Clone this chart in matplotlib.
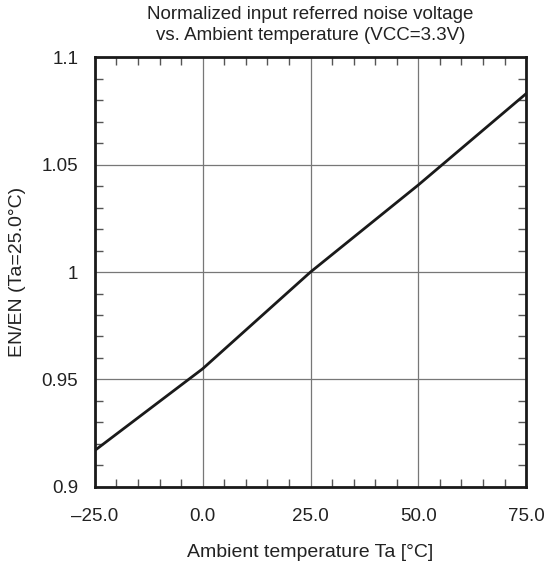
import matplotlib
matplotlib.use("Agg")
import matplotlib.pyplot as plt
from matplotlib.ticker import MultipleLocator

plt.rcParams['font.family'] = ['Liberation Sans', 'DejaVu Sans']

# temperature [degC] and normalized noise voltage
temp = [-25.0, 0.0, 25.0, 50.0, 75.0]
en_norm = [0.917, 0.955, 1.0, 1.0405, 1.083]

x_ticks = [-25.0, 0.0, 25.0, 50.0, 75.0]
y_ticks = [0.9, 0.95, 1.0, 1.05, 1.1]
y_labels = ['0.9', '0.95', '1', '1.05', '1.1']

fig = plt.figure(figsize=(5.58, 5.62), dpi=100)
ax = fig.add_axes([0.170, 0.1335, 0.773, 0.765])

ax.plot(temp, en_norm, color='#1a1a1a', lw=2.0, zorder=3)

ax.set_xlim(-25, 75)
ax.set_ylim(0.9, 1.1)
ax.set_xticks(x_ticks)
ax.set_xticklabels(['\u201325.0' if v < 0 else '%.1f' % v for v in x_ticks])
ax.set_yticks(y_ticks)
ax.set_yticklabels(y_labels)
ax.xaxis.set_minor_locator(MultipleLocator(5))
ax.yaxis.set_minor_locator(MultipleLocator(0.01))

ax.grid(True, which='major', color='#777777', lw=0.9)
ax.tick_params(which='major', length=0, labelsize=13.5, colors='#222222')
ax.tick_params(axis='x', which='major', pad=15)
ax.tick_params(axis='y', which='major', pad=12)
ax.tick_params(which='minor', direction='in', length=6, width=1.0,
               color='#555555', top=True, right=True)
for s in ax.spines.values():
    s.set_linewidth(2.0)
    s.set_color('#1a1a1a')
    s.set_zorder(4)

ax.set_xlabel('Ambient temperature Ta [\u00b0C]', fontsize=14, labelpad=14, color='#222222')
ax.set_ylabel('EN/EN (Ta=25.0\u00b0C)', fontsize=14, labelpad=11, color='#222222')
ax.set_title('Normalized input referred noise voltage\nvs. Ambient temperature (VCC=3.3V)',
             fontsize=13.5, color='#222222', pad=12, linespacing=1.3)

fig.savefig('out.png', dpi=100)
